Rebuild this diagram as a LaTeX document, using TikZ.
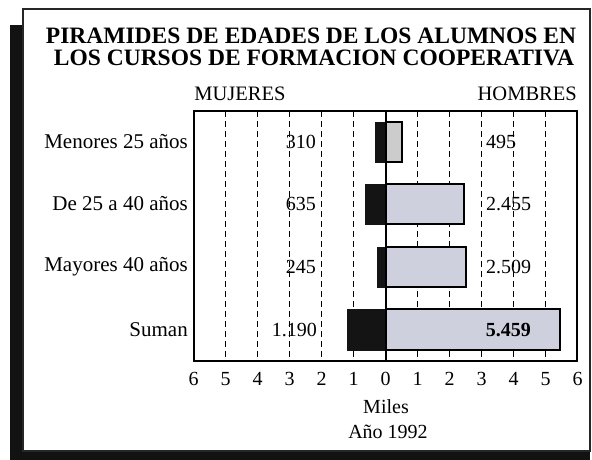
\documentclass[tikz,border=0pt]{standalone}
\usepackage{fontspec}
\setmainfont{Liberation Serif}
\begin{document}
\begin{tikzpicture}[x=1pt,y=-1pt,
  lbl/.style={font=\fontsize{21}{21}\selectfont, anchor=east, inner sep=0pt},
  wnum/.style={font=\fontsize{20}{20}\selectfont, anchor=east, inner sep=0pt},
  mnum/.style={font=\fontsize{20}{20}\selectfont, anchor=west, inner sep=0pt},
  tick/.style={font=\fontsize{20}{20}\selectfont, inner sep=0pt},
  ttl/.style={font=\bfseries\fontsize{23.5}{23.5}\selectfont, anchor=base, inner sep=0pt},
  hdr/.style={font=\fontsize{20.5}{20.5}\selectfont, anchor=base, inner sep=0pt},
  grid/.style={dashed, line width=1.3pt, dash pattern=on 6pt off 4pt},
  wbar/.style={fill=black!92, draw=black!92, line width=1pt},
  mbar/.style={fill=lav, draw=black, line width=2pt}]
\definecolor{lav}{RGB}{206,208,222}
\useasboundingbox (0,0) rectangle (592,460);
% frame with shadow
\fill[black!93] (10,25) rectangle (590,460);
\draw[line width=2pt, draw=black!85, fill=white] (23,9) rectangle (590,451);
% titles
\node[ttl] (t1) at (311,44) {PIRAMIDES DE EDADES DE LOS ALUMNOS EN};
\node[ttl] (t2) at (314,66) {LOS CURSOS DE FORMACION COOPERATIVA};
\node[hdr] (muj) at (240,100) {MUJERES};
\node[hdr, anchor=base east] (hom) at (577,100) {HOMBRES};
% grid
\foreach \k in {1,...,5}{
  \draw[grid] ({385.7-\k*32},111) -- ({385.7-\k*32},361);
  \draw[grid] ({385.7+\k*32},111) -- ({385.7+\k*32},361);
}
% bars
\draw[wbar] ({385.7-0.310*32},122) rectangle (385.7,162);
\draw[mbar, fill=gray!40] (385.7,122) rectangle ({385.7+0.495*32},162);
\draw[wbar] ({385.7-0.635*32},184) rectangle (385.7,224);
\draw[mbar] (385.7,184) rectangle ({385.7+2.455*32},224);
\draw[wbar] ({385.7-0.245*32},247) rectangle (385.7,287);
\draw[mbar] (385.7,247) rectangle ({385.7+2.509*32},287);
\draw[wbar] ({385.7-1.190*32},309) rectangle (385.7,350);
\draw[mbar] (385.7,309) rectangle ({385.7+5.459*32},350);
% plot frame and axis
\draw[line width=2pt] (194,111) rectangle (577,361);
\draw[line width=2pt] (385.7,111) -- (385.7,361);
% row labels
\node[lbl] (r1) at (188,142) {Menores 25 años};
\node[lbl] (r2) at (188,204) {De 25 a 40 años};
\node[lbl] (r3) at (188,267) {Mayores 40 años};
\node[lbl] (r4) at (188,330) {Suman};
% values
\node[wnum] (w1) at (316,142) {310};
\node[wnum] (w2) at (316,204) {635};
\node[wnum] (w3) at (316,267) {245};
\node[wnum] (w4) at (317,330) {1.190};
\node[mnum] (m1) at (486,142) {495};
\node[mnum] (m2) at (486,204) {2.455};
\node[mnum] (m3) at (486,267) {2.509};
\node[wnum, font=\bfseries\fontsize{20}{20}\selectfont] (m4) at (531,330) {5.459};
% ticks
\node[tick] (x0) at (385.7,379) {0};
\foreach \k in {1,...,6}{
  \node[tick] at ({385.7-\k*32},379) {\k};
  \node[tick] at ({385.7+\k*32},379) {\k};
}
\node[tick] (miles) at (386,407) {Miles};
\node[tick] (anio) at (388,432) {Año 1992};
\end{tikzpicture}
\end{document}
